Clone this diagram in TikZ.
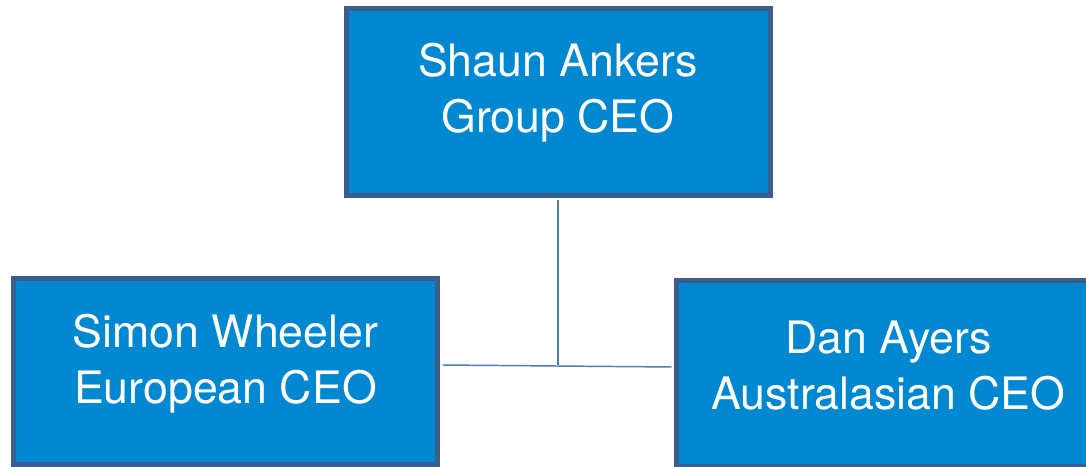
\documentclass[tikz,border=0pt]{standalone}
\usepackage{fontspec}
\setmainfont{TeX Gyre Heros}
\usepackage{tikz}
\usetikzlibrary{calc}
\usetikzlibrary{positioning}
\definecolor{boxfill}{HTML}{0288D1}
\definecolor{boxline}{HTML}{3B5E8C}
\definecolor{linkline}{HTML}{4A7EBB}
\tikzset{ceo/.style={rectangle,draw=boxline,fill=boxfill,line width=3.75pt,minimum width=318pt,minimum height=139.5pt,inner sep=0pt}}
\tikzset{ceotext/.style={text=white,align=center,inner sep=0pt,font=\fontsize{33.5}{42}\selectfont}}

\begin{document}
\begin{tikzpicture}[x=0.75pt,y=-0.75pt]
\tikzstyle{link} = [draw=linkline, line width=1.1pt]
\fill[white] (0,0) rectangle (1086,467);
\useasboundingbox (0,0) rectangle (1086,467);

\node[ceo](group) at (558,102){};
\node[ceotext](groupname) at ($ (group.center) +(0,-9) $){Shaun Ankers\\Group CEO};

\node[ceo](europe) at (225.5,371.5){};
\node[ceotext](europename) at ($ (europe.center) +(0,-8) $){Simon Wheeler\\European CEO};

\node[ceo](australasia) at (888.5,373.5){};
\node[ceotext](australasianame) at ($ (australasia.center) +(0,-8) $){Dan Ayers\\Australasian CEO};

\coordinate (eurolink) at ($ (europe.east) +(2.5,-6.5) $);
\coordinate (auslink) at ($ (australasia.west) +(-2.5,-6.5) $);
\draw[link] (eurolink) -- (auslink);
\draw[link] ($ (group.south) +(0,2.5) $) -- (group.south |- eurolink);

\end{tikzpicture}
\end{document}
